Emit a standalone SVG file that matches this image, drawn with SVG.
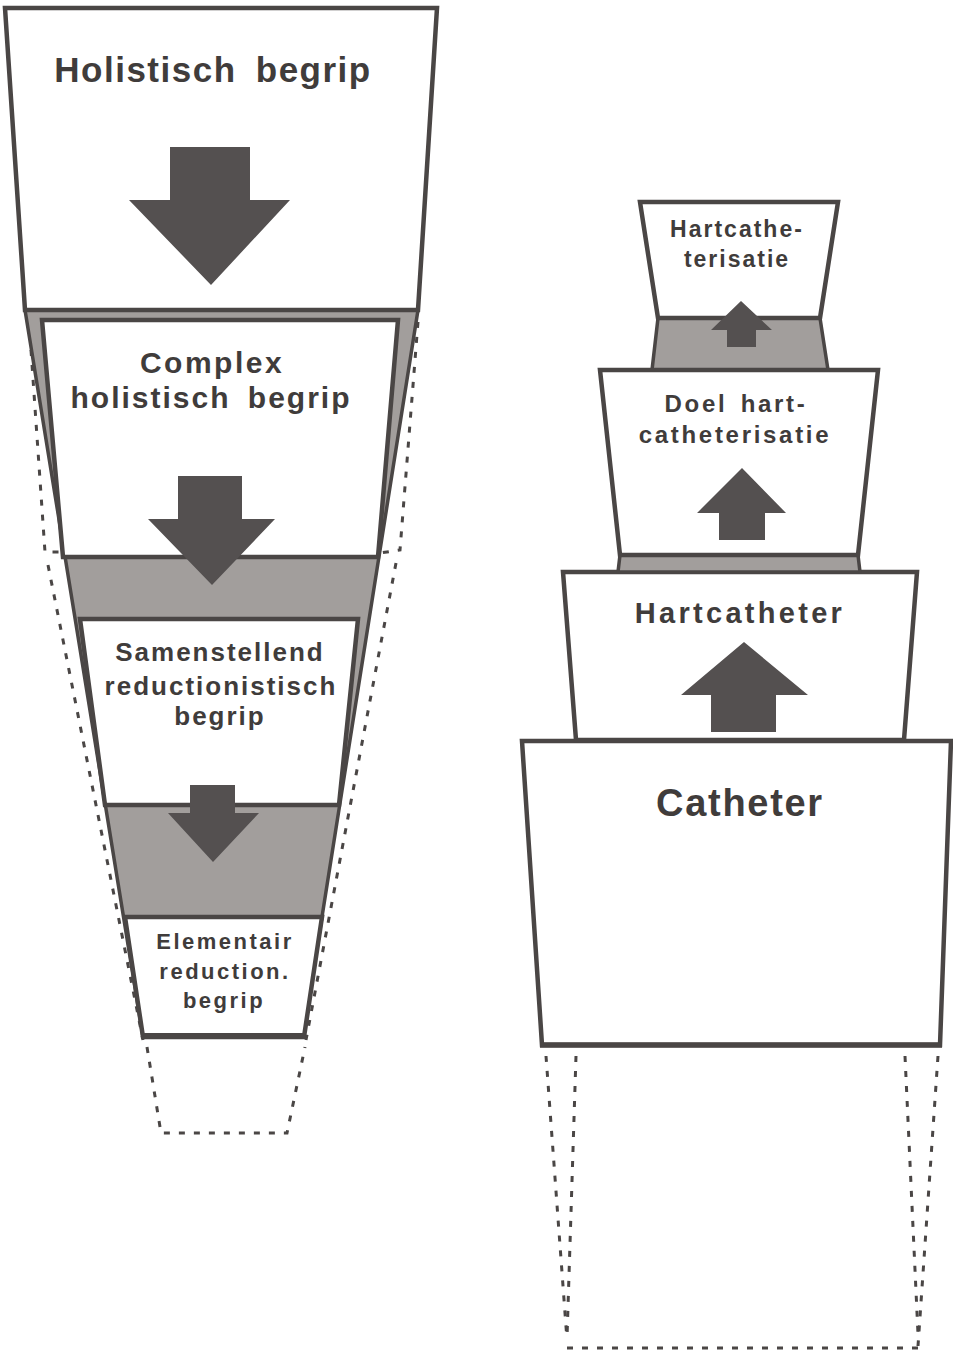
<svg xmlns="http://www.w3.org/2000/svg" width="953" height="1352" viewBox="0 0 953 1352">
  <style>
    .box { fill: #ffffff; stroke: #4a4645; stroke-width: 4.5; stroke-linejoin: miter; }
    .band { fill: #a29e9c; stroke: #4a4645; stroke-width: 3.5; stroke-linejoin: miter; }
    .arrow { fill: #545050; }
    .dash { fill: none; stroke: #4a4645; stroke-width: 3; stroke-dasharray: 6 9; }
    .lbl { font-family: "Liberation Sans", Arial, Helvetica, sans-serif; font-weight: bold; fill: #403c3b; text-anchor: middle; }
  </style>
  <rect width="953" height="1352" fill="#ffffff"/>

  <!-- Left column: narrowing cone of concepts -->
  <g id="cone-left">
    <polygon class="band" points="25,310 418,310 303,1037 143,1037"/>
  </g>

  <g id="holistisch-begrip">
    <polygon class="box" points="5,8 437,8 418,310 25,310"/>
    <polygon class="arrow" points="170,147 250,147 250,200 290,200 211,285 129,200 170,200"/>
    <text class="lbl" x="213" y="82" font-size="35" letter-spacing="1.5" word-spacing="8">Holistisch begrip</text>
  </g>

  <g id="complex-holistisch-begrip">
    <polygon class="box" points="42,320 398,320 378,557 63,557"/>
    <text class="lbl" x="212" y="373" font-size="30" letter-spacing="2.5">Complex</text>
    <text class="lbl" x="211" y="408" font-size="30" letter-spacing="2" word-spacing="7">holistisch begrip</text>
  </g>

  <g id="samenstellend-reductionistisch-begrip">
    <polygon class="box" points="80,619 358,619 339,805 105,805"/>
    <text class="lbl" x="220" y="661" font-size="26" letter-spacing="2">Samenstellend</text>
    <text class="lbl" x="221" y="695" font-size="26" letter-spacing="2">reductionistisch</text>
    <text class="lbl" x="220" y="725" font-size="26" letter-spacing="2">begrip</text>
  </g>

  <g id="elementair-reduction-begrip">
    <polygon class="box" points="125,917 322,917 304,1037 143,1037"/>
    <line x1="141" y1="1036" x2="306" y2="1036" stroke="#4a4645" stroke-width="6"/>
    <text class="lbl" x="225" y="949" font-size="22" letter-spacing="2.5">Elementair</text>
    <text class="lbl" x="225" y="979" font-size="22" letter-spacing="2.5">reduction.</text>
    <text class="lbl" x="224" y="1008" font-size="22" letter-spacing="2.5">begrip</text>
  </g>

  <!-- Right column: widening stack -->
  <g id="catheter">
    <polygon class="box" points="522,741 951,741 940,1045 542,1045"/>
    <line x1="540" y1="1045" x2="942" y2="1045" stroke="#4a4645" stroke-width="5.5"/>
    <text class="lbl" x="740" y="816" font-size="38" letter-spacing="1.7">Catheter</text>
  </g>

  <g id="hartcatheter">
    <polygon class="box" points="563,572 917,572 904,740 576,740"/>
    <text class="lbl" x="740" y="623" font-size="29" letter-spacing="3.3">Hartcatheter</text>
  </g>

  <g id="band-right">
    <polygon class="band" points="620,555 858,555 860,572 618,572"/>
    <polygon class="band" points="658,318 820,318 828,370 652,370"/>
  </g>

  <g id="doel-hartcatheterisatie">
    <polygon class="box" points="600,370 878,370 858,555 620,555"/>
    <text class="lbl" x="736" y="412" font-size="24" letter-spacing="2.7" word-spacing="4">Doel hart-</text>
    <text class="lbl" x="735" y="443" font-size="24" letter-spacing="2.7">catheterisatie</text>
  </g>

  <g id="hartcatheterisatie">
    <polygon class="box" points="640,202 838,202 820,318 658,318"/>
    <text class="lbl" x="737" y="237" font-size="23" letter-spacing="2">Hartcathe-</text>
    <text class="lbl" x="737" y="267" font-size="23" letter-spacing="2">terisatie</text>
  </g>

  <!-- Connectors: block arrows and dashed projections -->
  <g id="connectors">
    <polygon class="arrow" points="178,476 242,476 242,519 275,519 212,585 148,519 178,519"/>
    <polygon class="arrow" points="190,785 235,785 235,813 259,813 213,862 168,813 190,813"/>
    <polygon class="arrow" points="741,301 772,330 756,330 756,347 727,347 727,330 711,330"/>
    <polygon class="arrow" points="742,468 786,513 765,513 765,540 719,540 719,513 697,513"/>
    <polygon class="arrow" points="744,642 808,695 776,695 776,732 711,732 711,695 681,695"/>

    <path class="dash" d="M31,350 L45,552 L62,552"/>
    <path class="dash" d="M418,322 L400,550 L380,553"/>
    <path class="dash" d="M48,565 L143,1040"/>
    <path class="dash" d="M396,563 L306,1040"/>
    <path class="dash" d="M147,1047 L161,1133 L287,1133 L305,1047"/>

    <path class="dash" d="M546,1056 L567,1340"/>
    <path class="dash" d="M576,1056 L567,1338"/>
    <path class="dash" d="M905,1056 L918,1334"/>
    <path class="dash" d="M938,1056 L918,1346"/>
    <path class="dash" d="M567,1348 L920,1348"/>
  </g>
</svg>
